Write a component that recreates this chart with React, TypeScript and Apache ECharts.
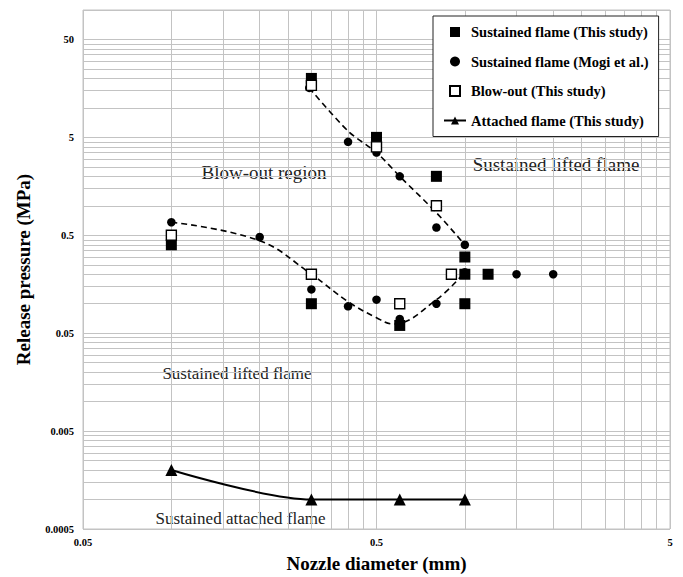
import React, { useEffect, useRef } from "react";
import * as echarts from "echarts";

// Axis ticks / labels
const xTickValues = [0.05, 0.5, 5];
const xTickLabels = ["0.05", "0.5", "5"];
const yTickValues = [0.0005, 0.005, 0.05, 0.5, 5, 50];
const yTickLabels = ["0.0005", "0.005", "0.05", "0.5", "5", "50"];
const gridMultipliers = [1, 2, 3, 4, 5, 6, 7, 8, 9];

// Data: [nozzle diameter (mm), release pressure (MPa)]
const sustainedThisStudy: [number, number][] = [
  [0.1, 0.4], [0.3, 20], [0.3, 0.1], [0.5, 5], [0.6, 0.06],
  [0.8, 2], [1.0, 0.3], [1.0, 0.2], [1.0, 0.1], [1.2, 0.2],
];
const sustainedMogi: [number, number][] = [
  [0.1, 0.68], [0.2, 0.48], [0.295, 16], [0.3, 0.14], [0.4, 4.5], [0.4, 0.094],
  [0.5, 3.5], [0.5, 0.11], [0.6, 2.0], [0.6, 0.07], [0.8, 0.6], [0.8, 0.1],
  [1.0, 0.4], [1.0, 0.21], [1.5, 0.2], [2.0, 0.2],
];
const blowOutThisStudy: [number, number][] = [
  [0.1, 0.5], [0.3, 17], [0.3, 0.2], [0.5, 4], [0.6, 0.1], [0.8, 1.0], [0.9, 0.2],
];
const attachedThisStudy: [number, number][] = [
  [0.1, 0.002], [0.3, 0.001], [0.6, 0.001], [1.0, 0.001],
];
// Hand-drawn dashed boundary guides
const upperBoundary: [number, number][] = [
  [0.295, 16], [0.4, 5.8], [0.5, 3.5], [0.6, 2.0], [0.8, 0.85], [1.0, 0.4],
];
const lowerBoundary: [number, number][] = [
  [0.1, 0.68], [0.2, 0.44], [0.3, 0.2], [0.4, 0.105], [0.5, 0.072],
  [0.57, 0.062], [0.8, 0.11], [1.0, 0.21],
];

const seriesNames = [
  "Sustained flame (This study)",
  "Sustained flame (Mogi et al.)",
  "Blow-out (This study)",
  "Attached flame (This study)",
];

const X_MIN = 0.05, X_MAX = 5, Y_MIN = 0.0005, Y_MAX = 100;

const SERIF = "'Liberation Serif', 'Times New Roman', serif";
const SQUARE_ICON = "path://M0,0L10,0L10,10L0,10Z";

export default function App() {
  const ref = useRef<HTMLDivElement>(null);
  useEffect(() => {
    if (!ref.current) return;
    const chart = echarts.init(ref.current, undefined, { renderer: "svg" });

    const xGrid = xTickValues.flatMap((d) => gridMultipliers.map((m) => d * m)).filter((v) => v <= X_MAX * 1.0001);
    const yGrid = yTickValues.flatMap((d) => gridMultipliers.map((m) => d * m)).filter((v) => v <= Y_MAX * 1.0001);

    const nearestLabel = (vals: number[], labels: string[]) => (v: number) => {
      let best = 0;
      let bd = Infinity;
      vals.forEach((t, i) => {
        const d = Math.abs(Math.log10(v) - Math.log10(t));
        if (d < bd) { bd = d; best = i; }
      });
      return labels[best];
    };

    const gridColor = "#c3c3c3";

    chart.setOption({
      animation: false,
      backgroundColor: "#ffffff",
      grid: {
        left: 83, right: 13, top: 10, bottom: 48,
        show: true, borderColor: gridColor, borderWidth: 1,
        containLabel: false, outerBoundsMode: "none",
      },
      xAxis: {
        type: "log", logBase: 10, min: X_MIN, max: X_MAX,
        name: "Nozzle diameter (mm)", nameLocation: "middle", nameGap: 25,
        nameTextStyle: { fontFamily: SERIF, fontWeight: "bold", fontSize: 19, color: "#000" },
        axisLine: { show: false },
        axisTick: { show: false, customValues: xGrid },
        splitLine: { show: true, lineStyle: { color: gridColor, width: 1 } },
        axisLabel: {
          customValues: xTickValues, margin: 8,
          fontFamily: SERIF, fontWeight: "bold", fontSize: 10.5, color: "#000",
          formatter: nearestLabel(xTickValues, xTickLabels),
        },
      },
      yAxis: {
        type: "log", logBase: 10, min: Y_MIN, max: Y_MAX,
        name: "Release pressure (MPa)", nameLocation: "middle", nameGap: 50,
        nameTextStyle: { fontFamily: SERIF, fontWeight: "bold", fontSize: 19, color: "#000" },
        axisLine: { show: false },
        axisTick: { show: false, customValues: yGrid },
        splitLine: { show: true, lineStyle: { color: gridColor, width: 1 } },
        axisLabel: {
          customValues: yTickValues, margin: 9,
          fontFamily: SERIF, fontWeight: "bold", fontSize: 10.5, color: "#000",
          formatter: nearestLabel(yTickValues, yTickLabels),
        },
      },
      legend: {
        data: [
          { name: seriesNames[0], icon: SQUARE_ICON },
          { name: seriesNames[1] },
          { name: seriesNames[2], icon: SQUARE_ICON },
          { name: seriesNames[3] },
        ],
        orient: "vertical",
        left: 433, top: 16,
        padding: [8, 10, 8, 10],
        itemWidth: 22, itemHeight: 10, itemGap: 13.5,
        symbolKeepAspect: true,
        borderColor: "#222", borderWidth: 1, backgroundColor: "#fff",
        textStyle: { fontFamily: SERIF, fontWeight: "bold", fontSize: 14.5, color: "#000", lineHeight: 16 },
      },
      graphic: [
        { type: "text", x: 264, y: 172, style: { text: "Blow-out region", fontFamily: SERIF, fontSize: 19, fill: "#222", textAlign: "center", textVerticalAlign: "middle" } },
        { type: "text", x: 556, y: 164, style: { text: "Sustained lifted flame", fontFamily: SERIF, fontSize: 19, fill: "#222", textAlign: "center", textVerticalAlign: "middle" } },
        { type: "text", x: 237, y: 373, style: { text: "Sustained lifted flame", fontFamily: SERIF, fontSize: 17, fill: "#222", textAlign: "center", textVerticalAlign: "middle" } },
        { type: "text", x: 240.5, y: 518, style: { text: "Sustained attached flame", fontFamily: SERIF, fontSize: 17, fill: "#222", textAlign: "center", textVerticalAlign: "middle" } },
      ],
      series: [
        {
          name: "upper-boundary", type: "line", data: upperBoundary, smooth: 0.3,
          showSymbol: false, symbol: "none", silent: true, z: 1,
          lineStyle: { color: "#000", width: 1.6, type: [6, 4] },
        },
        {
          name: "lower-boundary", type: "line", data: lowerBoundary, smooth: 0.4,
          showSymbol: false, symbol: "none", silent: true, z: 1,
          lineStyle: { color: "#000", width: 1.6, type: [6, 4] },
        },
        {
          name: seriesNames[0], type: "scatter", data: sustainedThisStudy,
          symbol: "rect", symbolSize: 11, z: 2,
          itemStyle: { color: "#000", opacity: 1 },
        },
        {
          name: seriesNames[1], type: "scatter", data: sustainedMogi,
          symbol: "circle", symbolSize: 8.5, z: 3,
          itemStyle: { color: "#000", opacity: 1 },
        },
        {
          name: seriesNames[2], type: "scatter", data: blowOutThisStudy,
          symbol: "rect", symbolSize: 10, z: 4,
          itemStyle: { color: "#fff", borderColor: "#000", borderWidth: 1.4, opacity: 1 },
        },
        {
          name: seriesNames[3], type: "line", data: attachedThisStudy, smooth: 0.3,
          symbol: "triangle", symbolSize: 12, showSymbol: true, z: 3,
          itemStyle: { color: "#000", opacity: 1 },
          lineStyle: { color: "#000", width: 2 },
        },
      ],
    });
    return () => chart.dispose();
  }, []);
  return (
    <div
      ref={ref}
      style={{ position: "absolute", left: 0, top: 0, width: 683, height: 577, background: "#fff" }}
    />
  );
}
